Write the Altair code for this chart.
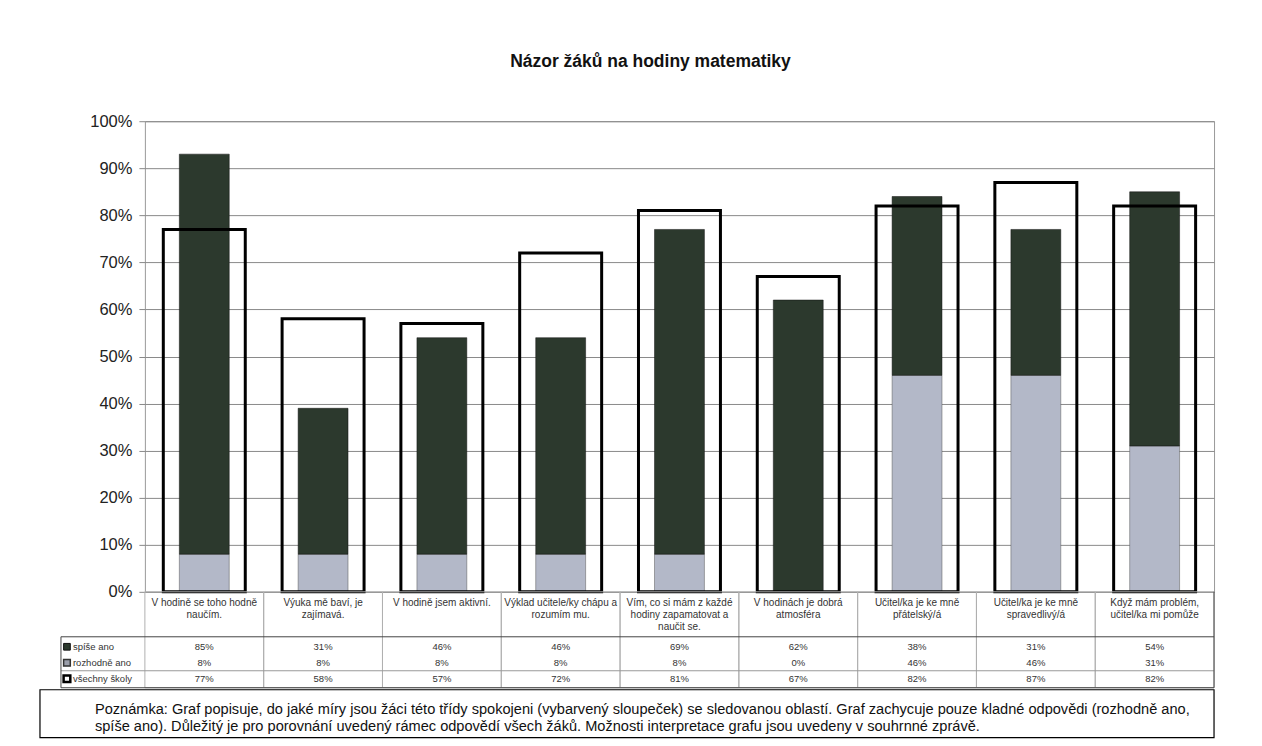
import altair as alt
import pandas as pd

# ---------------- data ----------------
categories = [
    "V hodině se toho hodně\nnaučím.",
    "Výuka mě baví, je\nzajímavá.",
    "V hodině jsem aktivní.",
    "Výklad učitele/ky chápu a\nrozumím mu.",
    "Vím, co si mám z každé\nhodiny zapamatovat a\nnaučit se.",
    "V hodinách je dobrá\natmosféra",
    "Učitel/ka je ke mně\npřátelský/á",
    "Učitel/ka je ke mně\nspravedlivý/á",
    "Když mám problém,\nučitel/ka mi pomůže",
]
spise_ano = [85, 31, 46, 46, 69, 62, 38, 31, 54]
rozhodne_ano = [8, 8, 8, 8, 8, 0, 46, 46, 31]
vsechny_skoly = [77, 58, 57, 72, 81, 67, 82, 87, 82]
row_names = ["spíše ano", "rozhodně ano", "všechny školy"]
y_ticks = list(range(0, 101, 10))
title_text = "Názor žáků na hodiny matematiky"
note_lines = [
    "Poznámka:  Graf popisuje, do jaké míry jsou žáci této třídy spokojeni (vybarvený sloupeček) se sledovanou oblastí. Graf zachycuje pouze kladné odpovědi (rozhodně ano,",
    "spíše ano). Důležitý je pro porovnání uvedený rámec odpovědí  všech žáků. Možnosti interpretace grafu jsou uvedeny v souhrnné zprávě.",
]

df = pd.DataFrame({
    "cat": categories,
    "spise": spise_ano,
    "rozhodne": rozhodne_ano,
    "vsechny": vsechny_skoly,
})
df["total"] = df["spise"] + df["rozhodne"]
df["spise_t"] = df["spise"].astype(str) + "%"
df["rozhodne_t"] = df["rozhodne"].astype(str) + "%"
df["vsechny_t"] = df["vsechny"].astype(str) + "%"

one = pd.DataFrame({"k": [0]})

# ---------------- layout ----------------
W, H = 1070, 471
FONT = "Liberation Sans"
TBL_TOP, TBL_BOT = H + 45, H + 96
ROW_Y = [H + 55, H + 71, H + 87]
NOTE_Y = [H + 118, H + 135]

xenc = alt.X("cat:N", sort=categories,
             scale=alt.Scale(paddingInner=0, paddingOuter=0), axis=None)
yscale = alt.Scale(domain=[0, 100], nice=False)
yaxis = alt.Axis(values=y_ticks, labelExpr="datum.value + '%'", title=None,
                 labelFontSize=16.5, labelColor="#222", labelFont=FONT,
                 labelPadding=7, tickSize=6, tickColor="#888", domain=False,
                 gridColor="#8a8a8a", gridWidth=1)

base = alt.Chart(df).encode(x=xenc)

light = base.mark_bar(width=alt.RelativeBandSize(0.42), color="#b3b8c8",
                      stroke="#555", strokeWidth=0.5).encode(
    y=alt.Y("rozhodne:Q", scale=yscale, axis=yaxis))
dark = base.mark_bar(width=alt.RelativeBandSize(0.42), color="#2c392d",
                     stroke="#111", strokeWidth=0.5).encode(
    y=alt.Y("rozhodne:Q", scale=yscale), y2="total:Q")
outline = base.mark_bar(width=alt.RelativeBandSize(0.69), filled=False,
                        stroke="black", strokeWidth=3).encode(
    y=alt.Y("vsechny:Q", scale=yscale))

cat_labels = base.mark_text(fontSize=10, font=FONT, color="#333",
                            lineBreak="\n", baseline="top", lineHeight=12).encode(
    y=alt.value(H + 6), text="cat:N")

# column cells of the table (outlined rectangles, one per category band)
col_cells = base.mark_rect(filled=False, stroke="#b0b0b0", strokeWidth=1).encode(
    y=alt.value(H), y2=alt.value(TBL_BOT))

table_layers = []
for yy, col in zip(ROW_Y, ["spise_t", "rozhodne_t", "vsechny_t"]):
    table_layers.append(base.mark_text(fontSize=9.5, font=FONT, color="#333",
                                       baseline="middle").encode(
        y=alt.value(yy), text=f"{col}:N"))

obase = alt.Chart(one)
hlines = [
    obase.mark_rule(color="#444", strokeWidth=1).encode(
        x=alt.value(-84), x2=alt.value(W), y=alt.value(TBL_TOP)),
    obase.mark_rule(color="#999", strokeWidth=1).encode(
        x=alt.value(-84), x2=alt.value(W), y=alt.value(H + 79)),
    obase.mark_rule(color="#444", strokeWidth=1).encode(
        x=alt.value(-84), x2=alt.value(W), y=alt.value(TBL_BOT)),
    obase.mark_rule(color="#444", strokeWidth=1).encode(
        x=alt.value(-84), y=alt.value(TBL_TOP), y2=alt.value(TBL_BOT)),
    obase.mark_rule(color="#444", strokeWidth=1).encode(
        x=alt.value(W), y=alt.value(H), y2=alt.value(TBL_BOT)),
]

swatch_fill = ["#2c392d", "#9a9eaa", "white"]
swatch_stroke = ["#111", "#333", "black"]
swatch_w = [1, 1.5, 2.5]
legend_layers = []
for i, (yy, name) in enumerate(zip(ROW_Y, row_names)):
    legend_layers.append(obase.mark_point(shape="square", size=45, filled=True,
                                          fill=swatch_fill[i], stroke=swatch_stroke[i],
                                          strokeWidth=swatch_w[i], opacity=1).encode(
        x=alt.value(-78), y=alt.value(yy)))
    legend_layers.append(obase.mark_text(fontSize=9.5, font=FONT, color="#333",
                                         align="left", baseline="middle",
                                         text=name).encode(
        x=alt.value(-72), y=alt.value(yy)))

note_box = obase.mark_rect(fill="white", stroke="black", strokeWidth=1.2).encode(
    x=alt.value(-105), x2=alt.value(W), y=alt.value(H + 98), y2=alt.value(H + 146))
note_layers = []
for yy, line in zip(NOTE_Y, note_lines):
    note_layers.append(obase.mark_text(fontSize=14.6, font=FONT, color="#111",
                                       align="left", baseline="middle",
                                       text=line).encode(
        x=alt.value(-50), y=alt.value(yy)))

chart = alt.layer(
    light, dark, outline, col_cells, cat_labels, *table_layers, *hlines,
    *legend_layers, note_box, *note_layers,
).properties(
    width=W, height=H,
    title=alt.TitleParams(title_text, fontSize=17.5, font=FONT, fontWeight="bold",
                          anchor="middle", offset=43, dx=-29, color="#111"),
    autosize=alt.AutoSizeParams(type="none"),
    padding={"left": 137, "top": 113, "right": 40, "bottom": 150},
    background="white",
).configure_view(stroke="#999", strokeWidth=1)

chart.save("out.html", embed_options={"renderer": "svg", "actions": False})
